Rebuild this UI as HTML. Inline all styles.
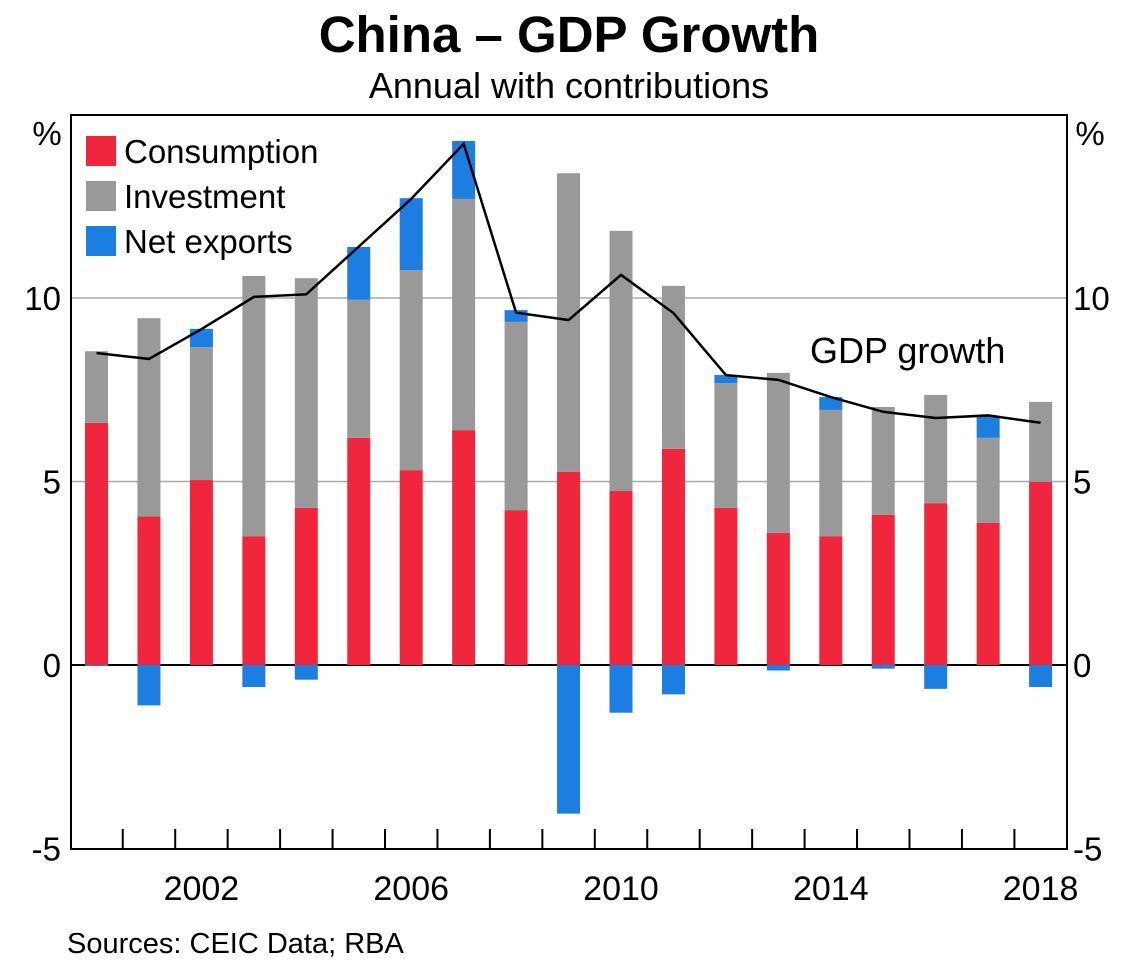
<!DOCTYPE html>
<html><head><meta charset="utf-8"><style>
body{margin:0;background:#fff;font-family:"Liberation Sans",sans-serif}
</style></head><body>
<svg width="1142" height="975" xmlns="http://www.w3.org/2000/svg" font-family="Liberation Sans, sans-serif" id="chart">
<text x="569" y="52" font-size="51" font-weight="bold" text-anchor="middle">China – GDP Growth</text>
<text x="569" y="98" font-size="36" text-anchor="middle">Annual with contributions</text>
<g id="grid"></g>
<g id="bars"></g>
<g id="line"></g>
<rect x="71" y="115" width="996" height="734" fill="none" stroke="#000" stroke-width="2"/>
<g id="axes"></g>
<text x="47" y="145" font-size="33" text-anchor="middle">%</text>
<text x="1090" y="145" font-size="33" text-anchor="middle">%</text>
<g>
<rect x="86" y="136" width="30" height="30" fill="#f0263c"/>
<text x="124" y="163" font-size="33">Consumption</text>
<rect x="86" y="181" width="30" height="30" fill="#999999"/>
<text x="124" y="208" font-size="33">Investment</text>
<rect x="86" y="226" width="30" height="30" fill="#1b7ee0"/>
<text x="124" y="253" font-size="33">Net exports</text>
</g>
<text x="810" y="363" font-size="36">GDP growth</text>
<text x="67" y="953" font-size="29">Sources: CEIC Data; RBA</text>
</svg>
<script>
const years=[2000,2001,2002,2003,2004,2005,2006,2007,2008,2009,2010,2011,2012,2013,2014,2015,2016,2017,2018];
const consumption=[6.6,4.05,5.04,3.51,4.28,6.19,5.31,6.4,4.22,5.26,4.74,5.89,4.28,3.6,3.51,4.09,4.41,3.87,4.99];
const investment=[1.95,5.4,3.62,7.09,6.26,3.76,5.45,6.3,5.13,8.14,7.09,4.44,3.4,4.36,3.44,2.94,2.95,2.32,2.18];
const netExports=[-0.03,-1.1,0.5,-0.6,-0.4,1.44,1.96,1.58,0.32,-4.05,-1.3,-0.8,0.22,-0.15,0.35,-0.1,-0.65,0.6,-0.6];
const gdp=[8.5,8.34,9.15,10.03,10.1,11.4,12.7,14.2,9.6,9.4,10.63,9.59,7.9,7.77,7.3,6.9,6.73,6.8,6.6];
const yTicks=[-5,0,5,10];
const xLabels=[2002,2006,2010,2014,2018];
const NS="http://www.w3.org/2000/svg";
const y=v=>665-v*36.7;
const x=yr=>96.5+(yr-2000)*52.45;
function mk(t,a,p){const e=document.createElementNS(NS,t);for(const k in a)e.setAttribute(k,a[k]);p.appendChild(e);return e;}
const G=document.getElementById('grid'),B=document.getElementById('bars'),L=document.getElementById('line'),A=document.getElementById('axes');
yTicks.forEach(v=>{
 if(v>-5){const ln=mk('line',{x1:71,x2:1067,y1:y(v),y2:y(v),stroke:v==0?'#000':'#aaa','stroke-width':v==0?2:1.5},G);
 
 }
 [[61,'end'],[1073,'start']].forEach(([xx,an],i)=>{const t=mk('text',{x:xx,y:y(v)+12,'font-size':33,'text-anchor':an},A);t.textContent=v;
 
 });
});
const bw=23;
years.forEach((yr,i)=>{
 const cx=x(yr);let pos=0,neg=0;
 [[consumption[i],'#f0263c','consumption'],[investment[i],'#999999','investment'],[netExports[i],'#1b7ee0','net-exports']].forEach(([v,c,n])=>{
  let y0,y1;if(v>=0){y0=pos;y1=pos+v;pos=y1;}else{y0=neg;y1=neg+v;neg=y1;}
  const r=mk('rect',{x:cx-bw/2,y:y(Math.max(y0,y1)),width:bw,height:Math.abs(y(y0)-y(y1)),fill:c},B);
  
  
 });
 if(i>0){const tk=mk('line',{x1:cx-26.2,x2:cx-26.2,y1:829,y2:849,stroke:'#000','stroke-width':2},A);
 
 }
});
const pl=mk('polyline',{points:years.map((yr,i)=>x(yr)+','+y(gdp[i])).join(' '),fill:'none',stroke:'#000','stroke-width':2.5},L);


xLabels.forEach(yr=>{const t=mk('text',{x:x(yr),y:900,'font-size':34,'text-anchor':'middle'},A);t.textContent=yr;
 
 });
</script>
</body></html>
